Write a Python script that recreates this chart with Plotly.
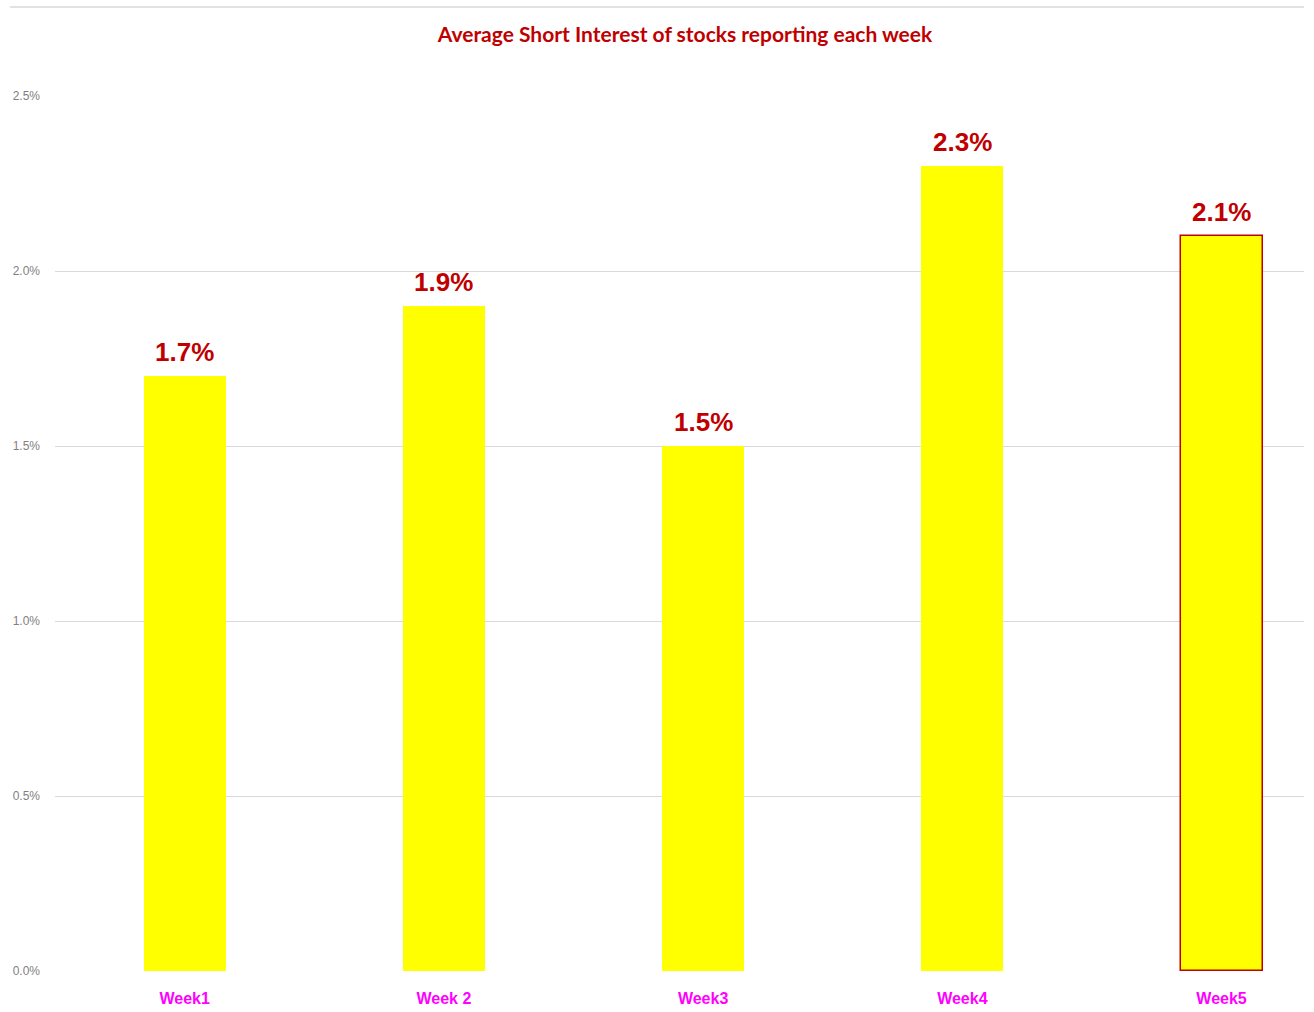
import plotly.graph_objects as go

categories = ["Week1", "Week 2", "Week3", "Week4", "Week5"]
values = [0.017, 0.019, 0.015, 0.023, 0.021]
labels = ["1.7%", "1.9%", "1.5%", "2.3%", "2.1%"]
y_ticks = [0.0, 0.005, 0.010, 0.015, 0.020, 0.025]

x_pos = list(range(len(categories)))
line_colors = ["rgba(0,0,0,0)"] * 4 + ["#C00000"]
line_widths = [0, 0, 0, 0, 1.5]

fig = go.Figure()
fig.add_trace(go.Bar(
    x=x_pos, y=values, width=0.316,
    marker=dict(color="#FFFF00", line=dict(color=line_colors, width=line_widths)),
))

for xp, v, lab in zip(x_pos, values, labels):
    fig.add_annotation(x=xp, y=v, text=f"<b>{lab}</b>", showarrow=False,
                       yanchor="middle", yshift=24,
                       font=dict(family="Liberation Sans, Arial", size=26, color="#C00000"))

fig.update_layout(
    width=1314, height=1012,
    margin=dict(l=55, r=10, t=96, b=41),
    paper_bgcolor="white", plot_bgcolor="white",
    showlegend=False,
    title=dict(text="<b>Average Short Interest of stocks reporting each week</b>",
               x=685/1314, xanchor="center", y=1-35/1012, yanchor="middle",
               font=dict(family="Lato, Open Sans", size=21, color="#C00000")),
    xaxis=dict(range=[-0.5, 4.318], tickvals=x_pos, ticktext=categories,
               showgrid=False, zeroline=False, showline=False, ticks="",
               ticklabelstandoff=16, automargin=False,
               tickfont=dict(family="Liberation Sans, Arial", size=16, color="#FF00FF", weight="bold")),
    yaxis=dict(range=[0, 0.025], tickvals=y_ticks, tickformat=".1%",
               showgrid=True, gridcolor="#D9D9D9", gridwidth=1, zeroline=False,
               showline=False, ticks="", ticklabelstandoff=14, automargin=False,
               tickfont=dict(family="Liberation Sans, Arial", size=12, color="#7F7F7F")),
    bargap=0,
)
fig.add_shape(type="line", xref="paper", yref="paper",
              x0=(10-55)/1249, x1=1.0, y0=(971-7)/875, y1=(971-7)/875,
              line=dict(color="#D9D9D9", width=1.5))

fig.write_html("out.html")
